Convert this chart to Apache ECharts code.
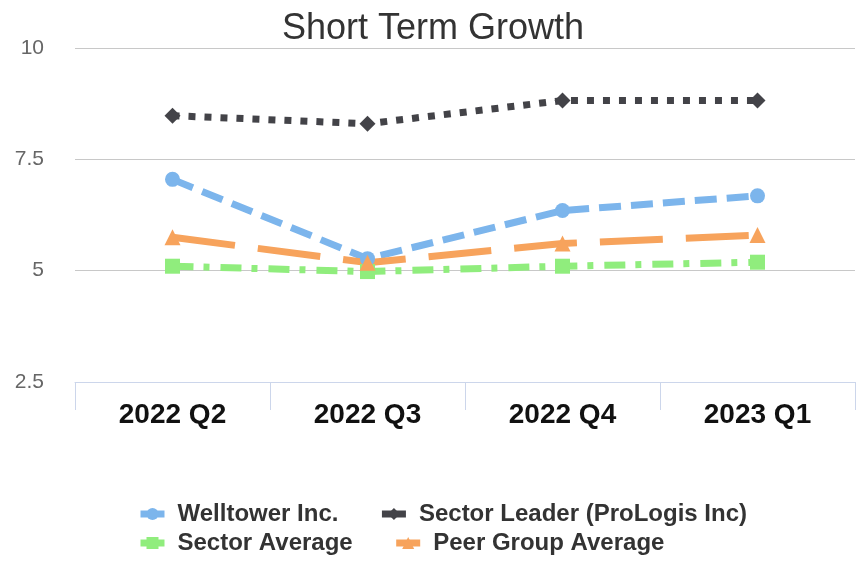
<!DOCTYPE html>
<html>
<head>
<meta charset="utf-8">
<script src="https://cdn.jsdelivr.net/npm/echarts@6/dist/echarts.min.js"></script>
<style>
    html, body { margin: 0; padding: 0; background: #fff; }
    #chart { width: 866px; height: 563px; }
</style>
</head>
<body>
<div id="chart"></div>
<script>
// 数据
const quarters = ['2022 Q2', '2022 Q3', '2022 Q4', '2023 Q1'];
const welltower = [7.05, 5.27, 6.35, 6.68];
const sectorLeader = [8.48, 8.3, 8.82, 8.82];
const sectorAverage = [5.1, 4.98, 5.1, 5.19];
const peerAverage = [5.75, 5.18, 5.61, 5.8];
const yTicks = [2.5, 5, 7.5, 10];
const legendRow1 = ['Welltower Inc.', 'Sector Leader (ProLogis Inc)'];
const legendRow2 = ['Sector Average', 'Peer Group Average'];

const fontFamily = '"Liberation Sans", Arial, sans-serif';

const chart = echarts.init(document.getElementById('chart'));

function lineSeries(name, data, color, symbol, symbolSize, dash) {
    return {
        name: name,
        type: 'line',
        data: data,
        symbol: symbol,
        symbolSize: symbolSize,
        itemStyle: { color: color },
        lineStyle: { color: color, width: 7, type: dash, cap: 'butt' },
        emphasis: { disabled: true }
    };
}

// 图例（两行）
function legendRow(names, top) {
    return {
        left: 137,
        top: top,
        padding: 0,
        itemGap: 40,
        itemWidth: 24,
        itemHeight: 15,
        lineStyle: { width: 7, type: 'solid', cap: 'butt' },
        textStyle: { fontFamily: fontFamily, fontSize: 24, fontWeight: 'bold', color: '#333', padding: [0, 0, 0, 8] },
        data: names
    };
}

chart.setOption({
    animation: false,
    title: {
        text: 'Short Term Growth',
        left: 'center',
        top: 6,
        textStyle: { fontFamily: fontFamily, fontSize: 36, fontWeight: 'normal', color: '#333' }
    },
    grid: { left: 75, right: 11, top: 48, bottom: 181 },
    legend: [legendRow(legendRow1, 502), legendRow(legendRow2, 531)],
    xAxis: {
        type: 'category',
        data: quarters,
        boundaryGap: true,
        axisLine: { lineStyle: { color: '#ccd6eb', width: 1 } },
        axisTick: { show: true, length: 28, lineStyle: { color: '#ccd6eb' } },
        axisLabel: { fontFamily: fontFamily, fontSize: 28, fontWeight: 'bold', color: '#111', margin: 19 }
    },
    yAxis: {
        type: 'value',
        min: yTicks[0],
        max: yTicks[yTicks.length - 1],
        interval: 2.5,
        axisLine: { show: false },
        axisTick: { show: false },
        splitLine: { lineStyle: { color: '#c8c8c8', width: 1 } },
        axisLabel: { fontFamily: fontFamily, fontSize: 21, color: '#666', margin: 31 }
    },
    series: [
        lineSeries('Welltower Inc.', welltower, '#7cb5ec', 'circle', 15, [22, 10]),
        lineSeries('Sector Leader (ProLogis Inc)', sectorLeader, '#434348', 'diamond', 16, [7, 9]),
        lineSeries('Sector Average', sectorAverage, '#90ed7d', 'rect', 15, [21, 10, 6, 11]),
        lineSeries('Peer Group Average', peerAverage, '#f7a35c', 'triangle', 16, [63, 23])
    ]
});
</script>
</body>
</html>
